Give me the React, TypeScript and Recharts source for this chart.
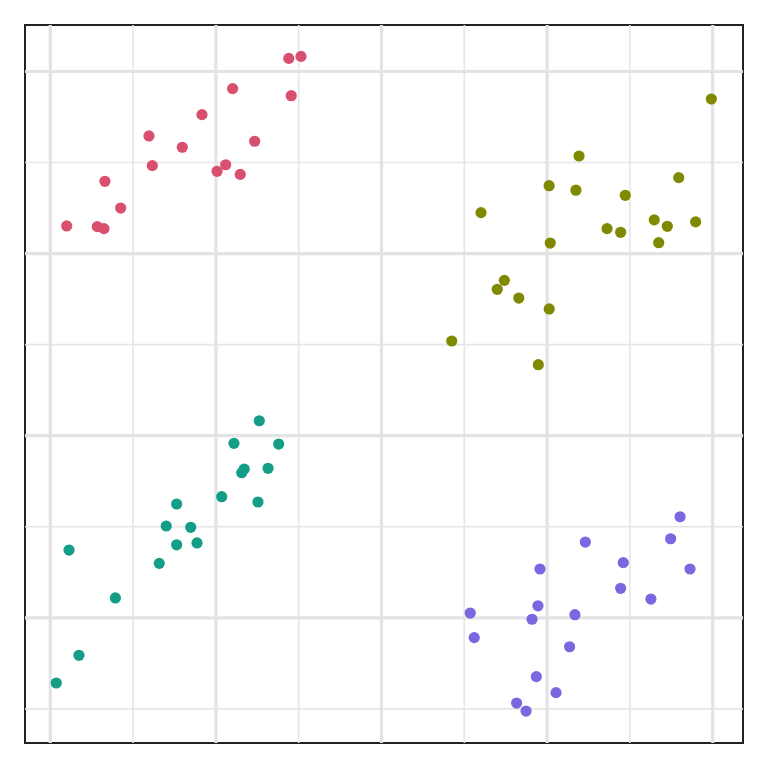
import React from "react";
import { ScatterChart, Scatter, XAxis, YAxis, ReferenceLine, ReferenceArea } from "recharts";

const xMajor = [0, 1, 2, 3, 4];
const xMinor = [0.5, 1.5, 2.5, 3.5];
const yMajor = [0, 1, 2, 3];
const yMinor = [-0.5, 0.5, 1.5, 2.5];
const xDomain = [-0.1528, 4.183];
const yDomain = [-0.6875, 3.2553];

const redX = [0.099, 0.284, 0.324, 0.330, 0.425, 0.596, 0.616, 0.797, 0.916, 1.007, 1.059, 1.101, 1.147, 1.234, 1.440, 1.514, 1.455];
const redY = [2.152, 2.148, 2.137, 2.397, 2.250, 2.646, 2.483, 2.584, 2.763, 2.452, 2.488, 2.906, 2.435, 2.617, 3.072, 3.083, 2.867];

const oliveX = [3.992, 3.193, 3.012, 3.174, 3.472, 3.795, 2.601, 3.019, 3.362, 3.444, 3.647, 3.726, 3.674, 3.897, 2.742, 2.699, 2.829, 3.013, 2.424, 2.947];
const oliveY = [2.849, 2.536, 2.373, 2.348, 2.320, 2.417, 2.225, 2.058, 2.137, 2.117, 2.185, 2.150, 2.060, 2.174, 1.853, 1.804, 1.756, 1.696, 1.520, 1.390];

const tealX = [1.262, 1.109, 1.379, 1.171, 1.156, 1.315, 1.035, 1.254, 0.763, 0.700, 0.848, 0.763, 0.886, 0.658, 0.113, 0.393, 0.173, 0.036];
const tealY = [1.082, 0.958, 0.954, 0.817, 0.797, 0.821, 0.665, 0.636, 0.625, 0.504, 0.497, 0.401, 0.411, 0.299, 0.372, 0.109, -0.206, -0.358];

const purpleX = [3.803, 3.746, 3.231, 3.863, 2.957, 3.460, 3.444, 3.627, 2.945, 2.536, 2.909, 3.168, 2.560, 3.136, 2.935, 3.054, 2.816, 2.873];
const purpleY = [0.555, 0.434, 0.416, 0.268, 0.268, 0.303, 0.162, 0.103, 0.066, 0.026, -0.008, 0.017, -0.109, -0.159, -0.323, -0.411, -0.468, -0.512];

const series = [
  { name: "a", xs: redX, ys: redY, color: "#D9506E" },
  { name: "b", xs: oliveX, ys: oliveY, color: "#808A00" },
  { name: "c", xs: tealX, ys: tealY, color: "#149E87" },
  { name: "d", xs: purpleX, ys: purpleY, color: "#7B68E0" },
];

const toPoints = (xs: number[], ys: number[]) => xs.map((x, i) => ({ x, y: ys[i] }));

export default function App() {
  return (
    <div style={{ position: "absolute", left: 0, top: 0, background: "#fff" }}>
      <ScatterChart width={768} height={768} margin={{ top: 25, right: 25, bottom: 25, left: 25 }}>
        <XAxis type="number" dataKey="x" domain={xDomain} hide allowDataOverflow />
        <YAxis type="number" dataKey="y" domain={yDomain} hide allowDataOverflow />
        {xMinor.map((v) => (
          <ReferenceLine key={"xm" + v} x={v} stroke="#E6E6E6" strokeWidth={1.6} />
        ))}
        {yMinor.map((v) => (
          <ReferenceLine key={"ym" + v} y={v} stroke="#E6E6E6" strokeWidth={1.6} />
        ))}
        {xMajor.map((v) => (
          <ReferenceLine key={"xM" + v} x={v} stroke="#E3E3E3" strokeWidth={3.2} />
        ))}
        {yMajor.map((v) => (
          <ReferenceLine key={"yM" + v} y={v} stroke="#E3E3E3" strokeWidth={3.2} />
        ))}
        <ReferenceArea
          x1={xDomain[0]}
          x2={xDomain[1]}
          y1={yDomain[0]}
          y2={yDomain[1]}
          fill="none"
          fillOpacity={0}
          stroke="#222222"
          strokeOpacity={1}
          strokeWidth={2}
        />
        {series.map((s) => (
          <Scatter
            key={s.name}
            data={toPoints(s.xs, s.ys)}
            fill={s.color}
            isAnimationActive={false}
            shape={(p: any) => <circle cx={p.cx} cy={p.cy} r={5.6} fill={s.color} />}
          />
        ))}
      </ScatterChart>
    </div>
  );
}
